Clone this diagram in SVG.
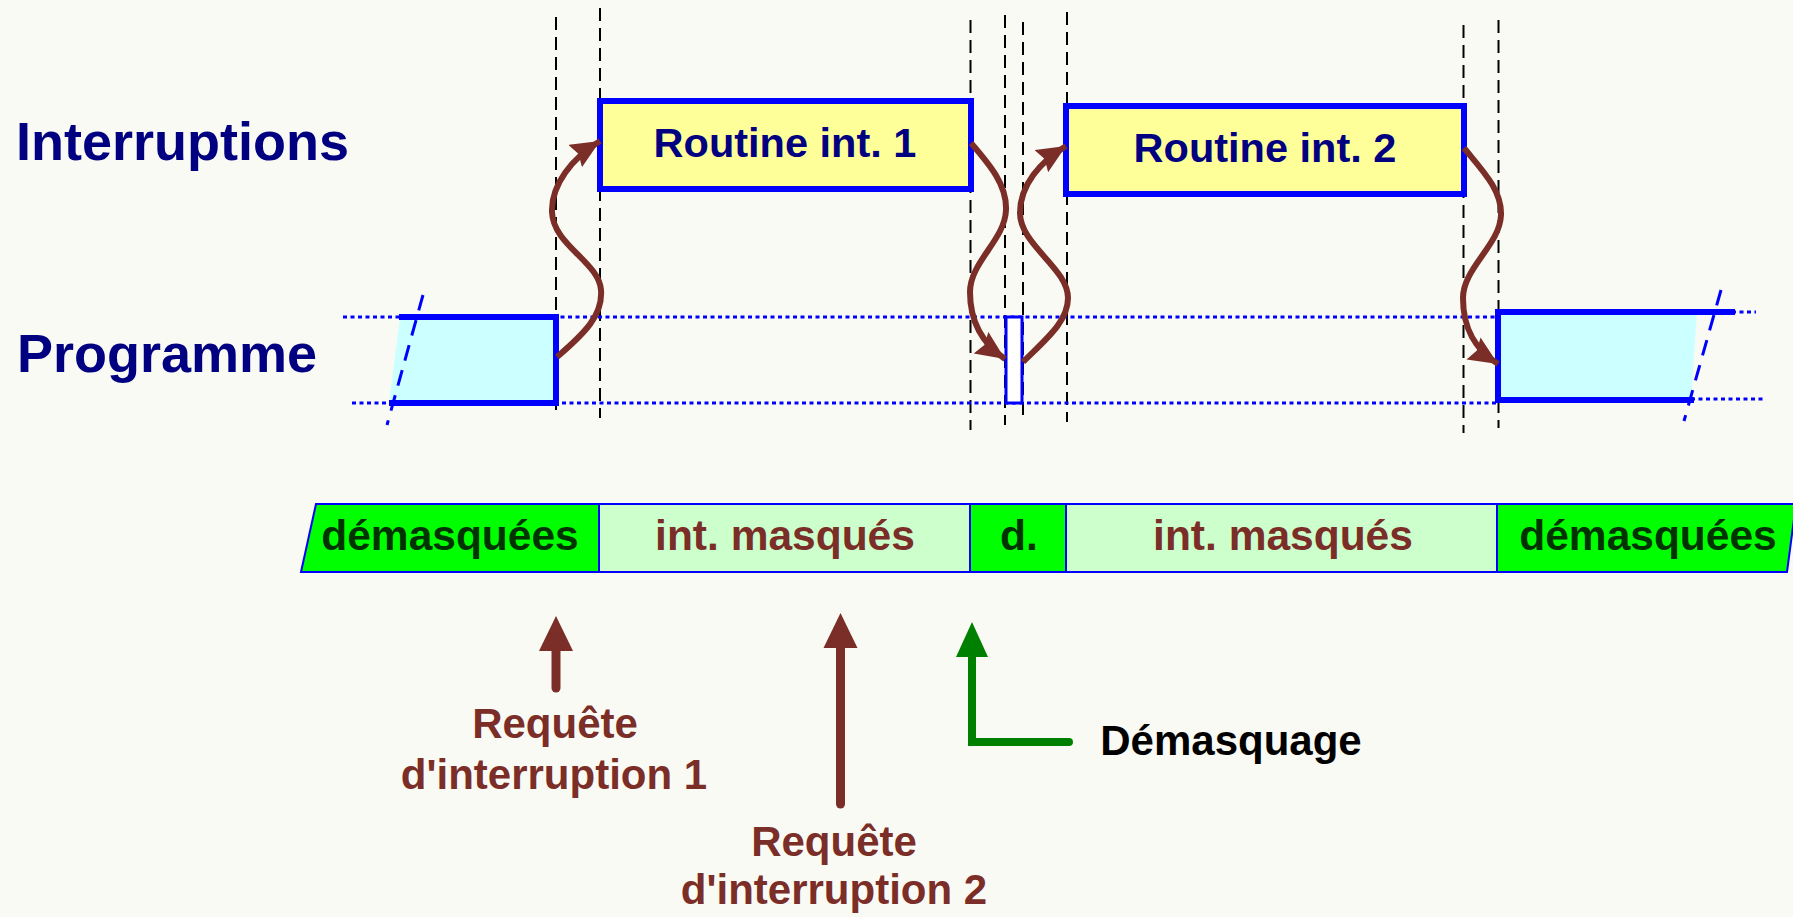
<svg xmlns="http://www.w3.org/2000/svg" width="1793" height="917" viewBox="0 0 1793 917">
  <defs>
    <style>
      .bg { fill: #FAFAF4; }
      .title { font-family: "Liberation Sans", Arial, sans-serif; font-weight: bold; font-size: 54px; fill: #000080; }
      .routine { fill: #FFFF99; stroke: #0000FF; stroke-width: 6; }
      .routine-text { font-family: "Liberation Sans", Arial, sans-serif; font-weight: bold; font-size: 41.5px; fill: #000080; text-anchor: middle; }
      .guide { stroke: #000000; stroke-width: 2; stroke-dasharray: 13 7; fill: none; }
      .dotted { stroke: #0000FF; stroke-width: 3; stroke-dasharray: 4 3.5; fill: none; }
      .cut { stroke: #0000FF; stroke-width: 3; stroke-dasharray: 16 10; fill: none; }
      .prog-fill { fill: #CCFFFF; stroke: none; }
      .prog-edge { stroke: #0000FF; stroke-width: 6; fill: none; stroke-linecap: square; }
      .flow { stroke: #7A2E27; stroke-width: 6; fill: none; marker-end: url(#head); }
      .on { fill: #00FF00; stroke: #0000FF; stroke-width: 2; }
      .off { fill: #CCFFCC; stroke: #0000FF; stroke-width: 2; }
      .band-text { font-family: "Liberation Sans", Arial, sans-serif; font-weight: bold; font-size: 42.5px; text-anchor: middle; }
      .on-text { fill: #003300; }
      .off-text { fill: #7A2E27; }
      .req { stroke: #7A2E27; stroke-width: 9; stroke-linecap: round; fill: none; }
      .req-head { fill: #7A2E27; }
      .unmask { stroke: #008000; stroke-width: 8; stroke-linecap: round; stroke-linejoin: miter; fill: none; }
      .unmask-head { fill: #008000; }
      .label { font-family: "Liberation Sans", Arial, sans-serif; font-weight: bold; font-size: 42px; text-anchor: middle; }
    </style>
    <marker id="head" markerUnits="userSpaceOnUse" markerWidth="30" markerHeight="28" refX="29" refY="13" orient="auto">
      <path d="M0,0 L29,13 L0,26 L4,13 z" fill="#7A2E27"/>
    </marker>
  </defs>

  <rect class="bg" x="0" y="0" width="1793" height="917"/>

  <!-- row titles -->
  <text class="title" x="16" y="160">Interruptions</text>
  <text class="title" x="17" y="372">Programme</text>

  <!-- timing guides -->
  <g id="guides">
    <line class="guide" x1="556" y1="17" x2="556" y2="417"/>
    <line class="guide" x1="600" y1="8" x2="600" y2="418"/>
    <line class="guide" x1="970.5" y1="20" x2="970.5" y2="430"/>
    <line class="guide" x1="1005" y1="15" x2="1005" y2="425"/>
    <line class="guide" x1="1023" y1="22" x2="1023" y2="422"/>
    <line class="guide" x1="1067" y1="12" x2="1067" y2="422"/>
    <line class="guide" x1="1463.5" y1="25" x2="1463.5" y2="433"/>
    <line class="guide" x1="1498.5" y1="20" x2="1498.5" y2="428"/>
  </g>

  <!-- programme lane -->
  <g id="lane">
    <line class="dotted" x1="343" y1="317" x2="1498" y2="317"/>
    <line class="dotted" x1="352" y1="403" x2="1498" y2="403"/>
    <line class="dotted" x1="1732" y1="312" x2="1756" y2="312"/>
    <line class="dotted" x1="1691" y1="399" x2="1765" y2="399"/>
  </g>

  <g id="prog-before">
    <polygon class="prog-fill" points="400,317 556,317 556,403 389,403"/>
    <polyline class="prog-edge" points="402,317 556,317 556,403 392,403"/>
    <line class="cut" x1="423" y1="295" x2="387" y2="425"/>
  </g>

  <g id="prog-gap">
    <rect x="1006" y="317" width="16" height="86" fill="#FFFFFF" stroke="#0000FF" stroke-width="3"/>
  </g>

  <g id="prog-after">
    <polygon class="prog-fill" points="1498,312 1697,312 1691,400 1498,400"/>
    <polyline class="prog-edge" points="1732,312 1498,312 1498,400 1691,400"/>
    <line class="cut" x1="1721" y1="290" x2="1684" y2="421"/>
  </g>

  <!-- interrupt routines -->
  <g id="routine1">
    <rect class="routine" x="600" y="101" width="371" height="88"/>
    <text class="routine-text" x="785" y="157">Routine int. 1</text>
  </g>
  <g id="routine2">
    <rect class="routine" x="1066" y="106" width="398" height="88"/>
    <text class="routine-text" x="1265" y="162">Routine int. 2</text>
  </g>

  <!-- context switches -->
  <g id="connectors">
    <path class="flow" d="M557,357 C585,333 603,315 601,290 C599,262 553,245 552,212 C551,185 572,158 600,141"/>
    <path class="flow" d="M971,143 C990,165 1007,185 1006,210 C1005,240 970,262 970,292 C970,322 983,344 1005,359"/>
    <path class="flow" d="M1023,362 C1045,340 1068,322 1068,298 C1068,268 1020,245 1020,213 C1020,185 1040,162 1066,146"/>
    <path class="flow" d="M1464,148 C1482,170 1502,190 1501,215 C1500,245 1463,268 1463,298 C1463,330 1476,350 1498,364"/>
  </g>

  <!-- interrupt mask state -->
  <g id="mask-band">
    <polygon class="on" points="316,504 599,504 599,572 301,572"/>
    <polygon class="off" points="599,504 970,504 970,572 599,572"/>
    <polygon class="on" points="970,504 1066,504 1066,572 970,572"/>
    <polygon class="off" points="1066,504 1497,504 1497,572 1066,572"/>
    <polygon class="on" points="1497,504 1796,504 1787,572 1497,572"/>
    <text class="band-text on-text" x="450" y="550">démasquées</text>
    <text class="band-text off-text" x="785" y="550">int. masqués</text>
    <text class="band-text on-text" x="1019" y="550">d.</text>
    <text class="band-text off-text" x="1283" y="550">int. masqués</text>
    <text class="band-text on-text" x="1648" y="550">démasquées</text>
  </g>

  <!-- events -->
  <g id="request1">
    <line class="req" x1="556" y1="688" x2="556" y2="645"/>
    <polygon class="req-head" points="539,651 573,651 556,616"/>
    <text class="label off-text" x="555" y="738">Requête</text>
    <text class="label off-text" x="554" y="789">d'interruption 1</text>
  </g>
  <g id="request2">
    <line class="req" x1="840.5" y1="804" x2="840.5" y2="642"/>
    <polygon class="req-head" points="823.5,648 857.5,648 840.5,613"/>
    <text class="label off-text" x="834" y="856">Requête</text>
    <text class="label off-text" x="834" y="904">d'interruption 2</text>
  </g>
  <g id="unmask">
    <polyline class="unmask" points="1069,742 972,742 972,650"/>
    <polygon class="unmask-head" points="956,657 988,657 972,622"/>
    <text class="label" x="1231" y="755" fill="#000000">Démasquage</text>
  </g>
</svg>
